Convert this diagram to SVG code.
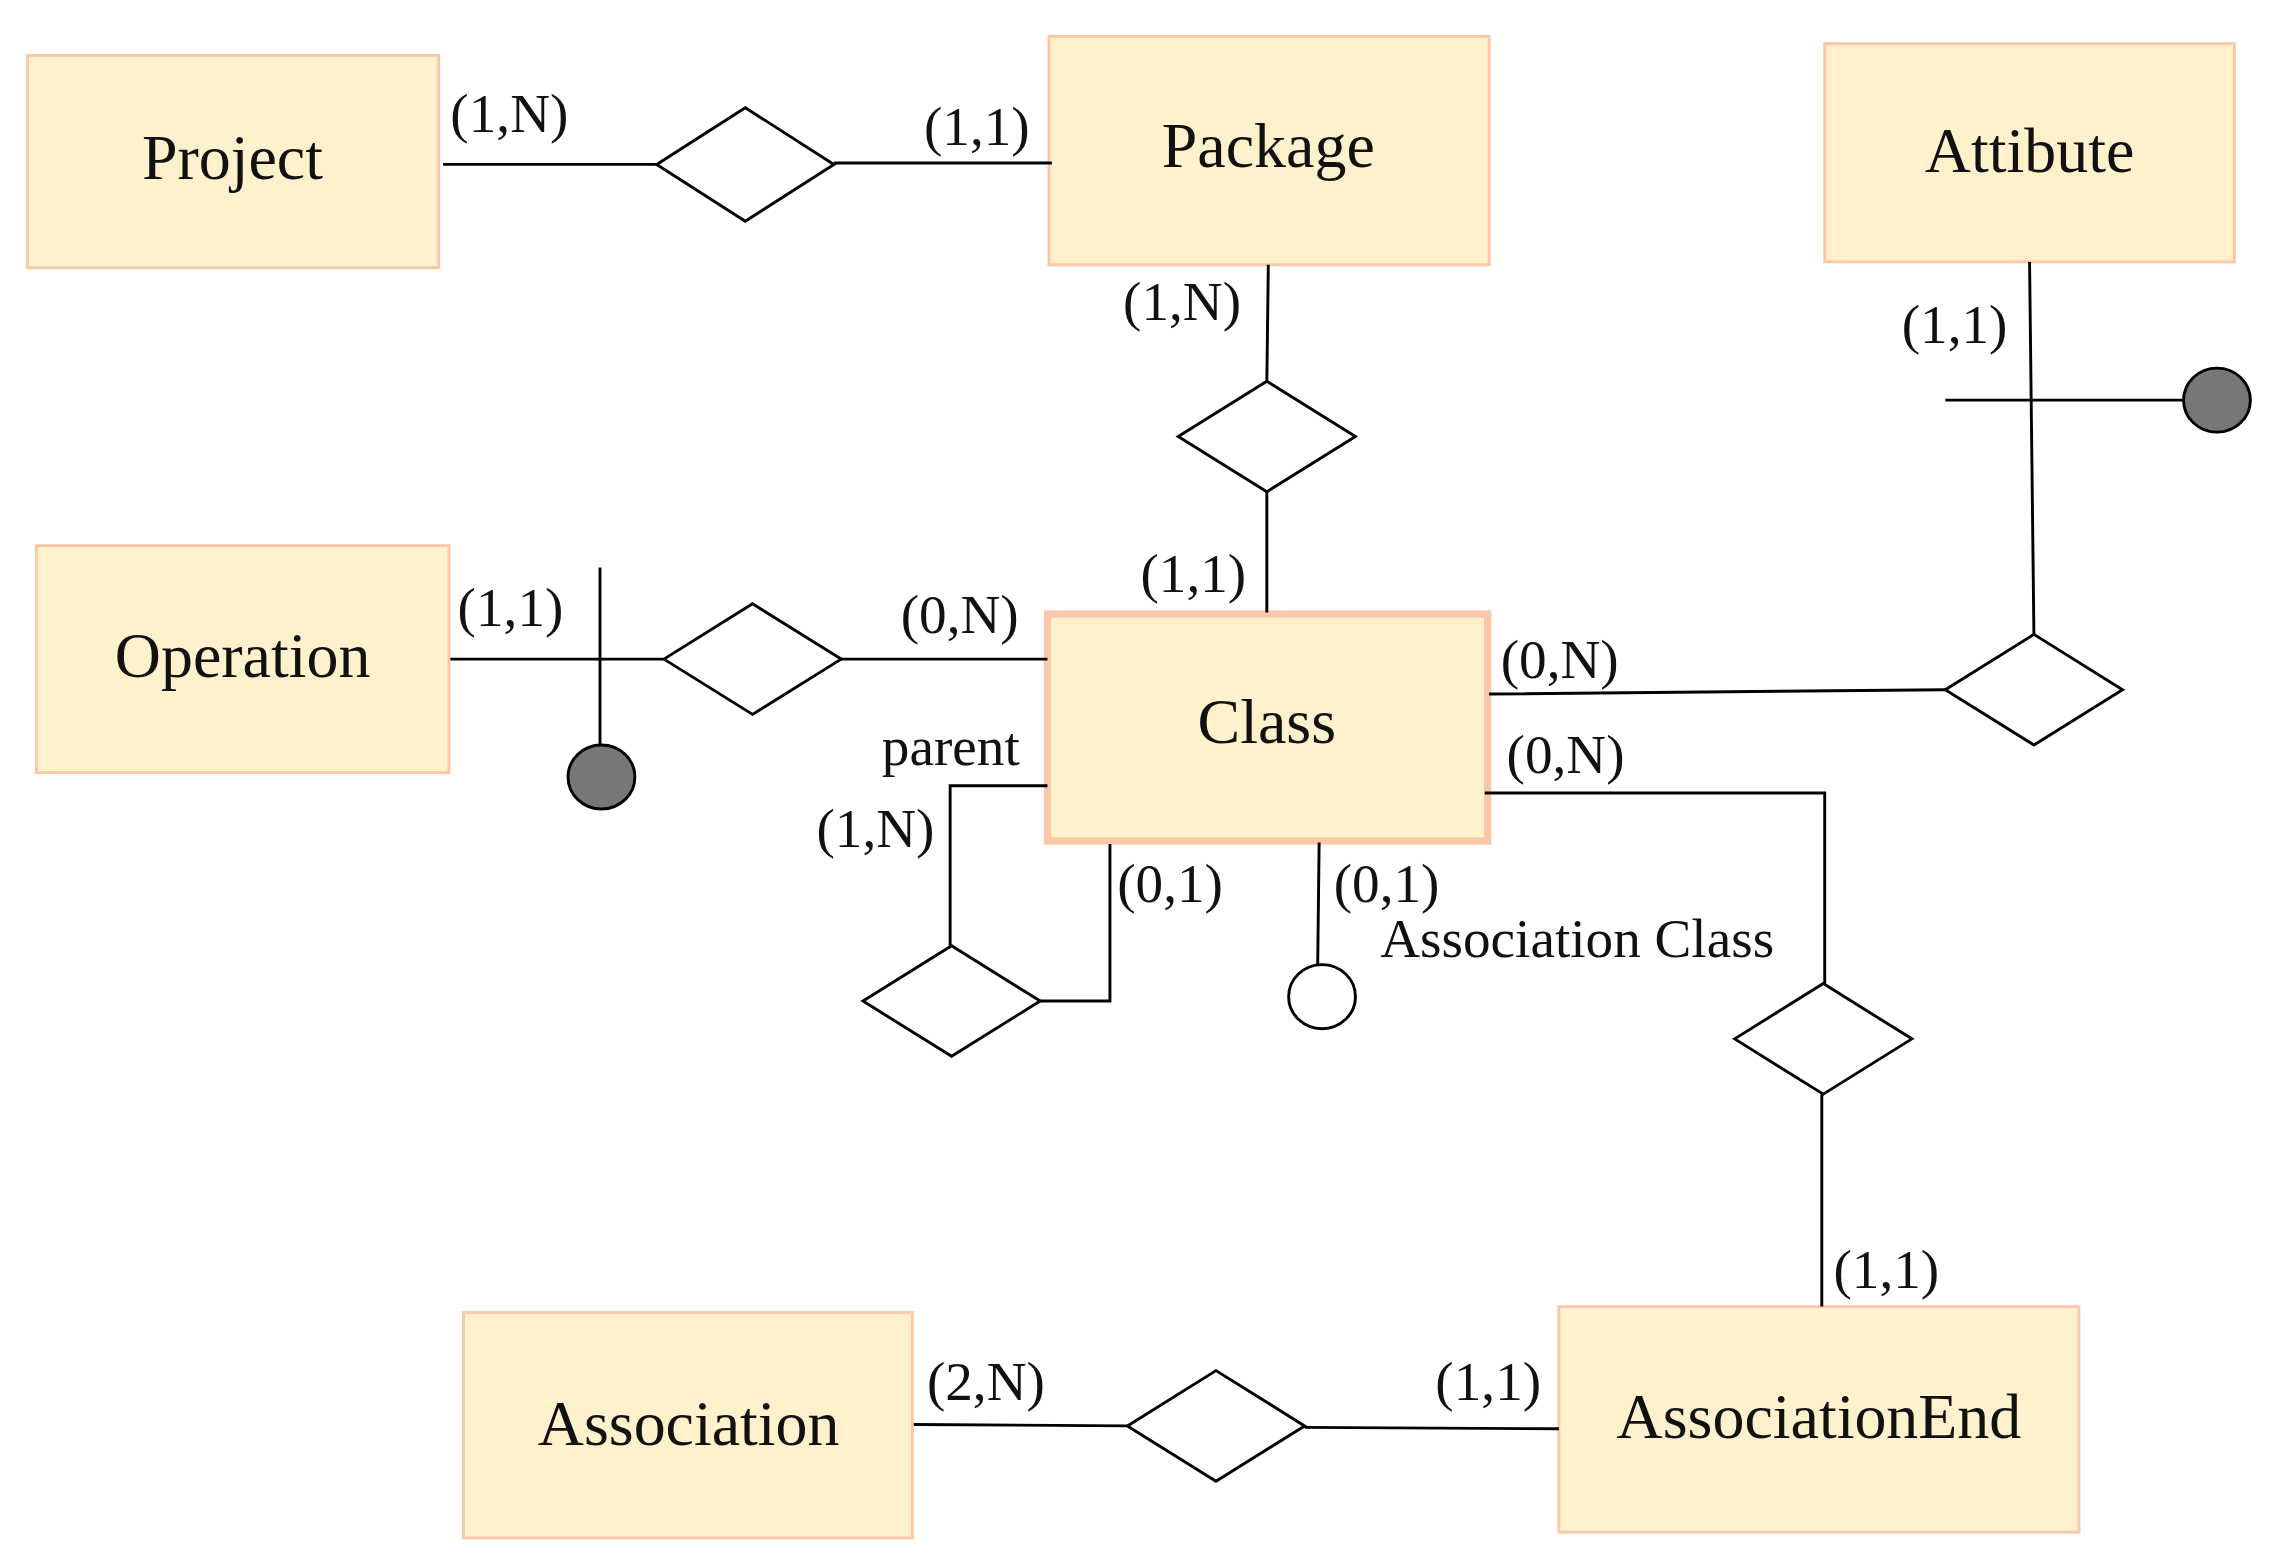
<svg xmlns="http://www.w3.org/2000/svg" width="2278" height="1564" viewBox="0 0 2278 1564">
<style>
.ent{fill:#fff1cc;stroke:#f8c8a8;stroke-width:2}
.et{font-family:"Liberation Serif",serif;font-size:44px;text-anchor:middle;fill:#111}
.lb{font-family:"Liberation Serif",serif;font-size:38px;fill:#111}
.ln{fill:none;stroke:#000;stroke-width:2}
.dm{fill:#fff;stroke:#000;stroke-width:2}
</style>
<rect width="2278" height="1564" fill="#fff"/>
<g transform="scale(1.4528 1.455)">
<g id="project"><rect class="ent" x="19" y="38" width="283" height="146"/><text class="et" x="160" y="123">Project</text></g>
<g id="package"><rect class="ent" x="722" y="25" width="303" height="157"/><text class="et" x="873" y="115">Package</text></g>
<g id="attibute"><rect class="ent" x="1256" y="30" width="282" height="150"/><text class="et" x="1397" y="118">Attibute</text></g>
<g id="operation"><rect class="ent" x="25" y="375" width="284" height="156"/><text class="et" x="167" y="465">Operation</text></g>
<g id="class"><rect class="ent" x="721" y="422" width="303" height="156" style="stroke-width:5"/><text class="et" x="872" y="511">Class</text></g>
<g id="association"><rect class="ent" x="319" y="902" width="309" height="155"/><text class="et" x="474" y="993">Association</text></g>
<g id="associationend"><rect class="ent" x="1073" y="898" width="358" height="155"/><text class="et" x="1252" y="988">AssociationEnd</text></g>
<g id="rel1"><polygon class="dm" points="452,113 513,74 574,113 513,152"/></g>
<g id="rel2"><polygon class="dm" points="811,300 872,262 933,300 872,338"/></g>
<g id="rel3"><polygon class="dm" points="1339,474 1400,436 1461,474 1400,512"/></g>
<g id="rel4"><polygon class="dm" points="457,453 518,415 579,453 518,491"/></g>
<g id="rel5"><polygon class="dm" points="594,688 655,650 716,688 655,726"/></g>
<g id="rel6"><polygon class="dm" points="1194,714 1255,676 1316,714 1255,752"/></g>
<g id="rel7"><polygon class="dm" points="776,980 837,942 898,980 837,1018"/></g>
<g id="connectors">
<path class="ln" d="M305,113H452M574,112H724"/>
<path class="ln" d="M873,182L872,262M872,338V421"/>
<path class="ln" d="M1397,180L1400,436M1339,275H1503M1025,477L1339,474"/>
<ellipse cx="1526" cy="275" rx="23" ry="22" fill="#777" stroke="#000" stroke-width="2"/>
<path class="ln" d="M310,453H457M413,390V512M579,453H721"/>
<ellipse cx="414" cy="534" rx="23" ry="22" fill="#777" stroke="#000" stroke-width="2"/>
<path class="ln" d="M721,540H654V650M716,688H764V580"/>
<path class="ln" d="M908,579L907,663"/>
<ellipse cx="910" cy="685" rx="23" ry="22" fill="#fff" stroke="#000" stroke-width="2"/>
<path class="ln" d="M1022,545H1256V676M1254,752V898"/>
<path class="ln" d="M629,979L776,980M898,981L1073,982"/>
</g>
<g id="labels">
<text class="lb" x="310" y="91">(1,N)</text>
<text class="lb" x="636" y="100">(1,1)</text>
<text class="lb" x="773" y="220">(1,N)</text>
<text class="lb" x="785" y="407">(1,1)</text>
<text class="lb" x="1309" y="236">(1,1)</text>
<text class="lb" x="1033" y="466">(0,N)</text>
<text class="lb" x="315" y="430">(1,1)</text>
<text class="lb" x="620" y="435">(0,N)</text>
<text class="lb" x="607" y="526">parent</text>
<text class="lb" x="562" y="582">(1,N)</text>
<text class="lb" x="769" y="620">(0,1)</text>
<text class="lb" x="918" y="620">(0,1)</text>
<text class="lb" x="950" y="658">Association Class</text>
<text class="lb" x="1037" y="531">(0,N)</text>
<text class="lb" x="1262" y="885">(1,1)</text>
<text class="lb" x="638" y="962">(2,N)</text>
<text class="lb" x="988" y="962">(1,1)</text>
</g>
</g>
</svg>
